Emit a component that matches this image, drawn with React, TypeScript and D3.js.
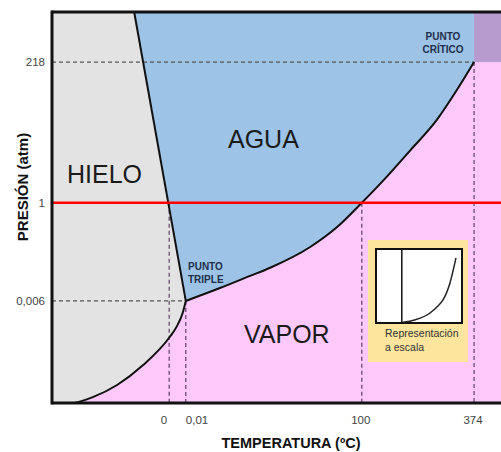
import React from "react";
import * as d3 from "d3";

// Schematic (not-to-scale) phase diagram: positions expressed in diagram units 0..100
const xTickPos = [26.1, 29.8, 69.0, 94.0];
const xTickLabels = ["0", "0,01", "100", "374"];
const xTickAnchors = ["end", "start", "middle", "middle"];
const yTickPos = [87.2, 51.2, 26.1];
const yTickLabels = ["218", "1", "0,006"];

const triplePoint: [number, number] = [29.8, 26.1];
const criticalPoint: [number, number] = [94.0, 87.2];

const fusionLine: [number, number][] = [
  [18.3, 100],
  [29.8, 26.1],
];
const vaporizationCurve: [number, number][] = [
  [29.8, 26.1],
  [37.4, 29.4],
  [44.1, 32.5],
  [48.6, 34.6],
  [57.5, 39.9],
  [63.5, 45.0],
  [69.0, 51.2],
  [73.7, 56.8],
  [79.7, 64.5],
  [85.7, 72.4],
  [90.2, 80.1],
  [94.0, 87.2],
];
// ascending in temperature, from the bottom edge to the triple point
const sublimationCurve: [number, number][] = [
  [5.1, 0],
  [9.1, 1.5],
  [14.5, 4.6],
  [20.3, 9.7],
  [26.3, 17.0],
  [27.8, 19.6],
  [29.1, 23.0],
  [29.8, 26.1],
];

// inset "to scale" curve, in inset units 0..1
const insetFusionX = 0.3;
const insetCurve: [number, number][] = [
  [0.314, 0.01],
  [0.45, 0.04],
  [0.628, 0.135],
  [0.72, 0.23],
  [0.779, 0.311],
  [0.86, 0.541],
  [0.93, 0.88],
];

const W = 501;
const H = 452;
const L = 52;
const R = 501;
const T = 12;
const B = 403;

const C_ICE = "#e3e3e3";
const C_WATER = "#9dc3e6";
const C_VAPOR = "#fdc8fa";
const C_SUPER = "#b79bcf";
const C_INSET = "#fee59e";

export default function App() {
  const x = d3.scaleLinear().domain([0, 100]).range([L, R]);
  const y = d3.scaleLinear().domain([0, 100]).range([B, T]);

  const lineCurve = d3
    .line<[number, number]>()
    .x((d) => x(d[0]))
    .y((d) => y(d[1]))
    .curve(d3.curveMonotoneX);
  const lineStraight = d3
    .line<[number, number]>()
    .x((d) => x(d[0]))
    .y((d) => y(d[1]));

  const subl = lineCurve(sublimationCurve) || "";
  const vap = lineCurve(vaporizationCurve) || "";
  const vapCont = vap.replace(/^M[^A-Za-z]*/, "L" + x(triplePoint[0]) + "," + y(triplePoint[1]));

  const vapRegion =
    subl + vapCont + `L${x(100)},${y(criticalPoint[1])}L${x(100)},${y(0)}Z`;

  const waterRegion =
    lineStraight(fusionLine) + vapCont + `L${x(criticalPoint[0])},${y(100)}Z`;

  // inset
  const ix0 = 376,
    ix1 = 462,
    iy0 = 249,
    iy1 = 323;
  const ixs = d3.scaleLinear().domain([0, 1]).range([ix0, ix1]);
  const iys = d3.scaleLinear().domain([0, 1]).range([iy1, iy0]);
  const insetLine = d3
    .line<[number, number]>()
    .x((d) => ixs(d[0]))
    .y((d) => iys(d[1]))
    .curve(d3.curveMonotoneX);

  const dash = { stroke: "#555", strokeWidth: 1.2, strokeDasharray: "4,3", fill: "none" };
  const dashV = { stroke: "#5d4068", strokeWidth: 1.2, strokeDasharray: "4,3", fill: "none" };

  return (
    <svg
      width={W}
      height={H}
      style={{ position: "absolute", left: 0, top: 0, background: "#fff" }}
      fontFamily="'Liberation Sans', Arial, sans-serif"
    >
      {/* ice background */}
      <rect x={L} y={T} width={R - L} height={B - T} fill={C_ICE} />
      <path d={vapRegion} fill={C_VAPOR} />
      <path d={waterRegion} fill={C_WATER} />
      <rect
        x={x(criticalPoint[0])}
        y={y(100)}
        width={x(100) - x(criticalPoint[0])}
        height={y(criticalPoint[1]) - y(100)}
        fill={C_SUPER}
      />

      {/* dashed reference lines */}
      <line x1={x(0)} x2={x(criticalPoint[0])} y1={y(yTickPos[0])} y2={y(yTickPos[0])} {...dash} />
      <line x1={x(0)} x2={x(triplePoint[0])} y1={y(yTickPos[2])} y2={y(yTickPos[2])} {...dash} />
      <line x1={x(xTickPos[0])} x2={x(xTickPos[0])} y1={y(yTickPos[1])} y2={y(0)} {...dashV} />
      <line x1={x(xTickPos[1])} x2={x(xTickPos[1])} y1={y(yTickPos[2])} y2={y(0)} {...dashV} />
      <line x1={x(xTickPos[2])} x2={x(xTickPos[2])} y1={y(yTickPos[1])} y2={y(0)} {...dashV} />
      <line x1={x(xTickPos[3])} x2={x(xTickPos[3])} y1={y(criticalPoint[1])} y2={y(0)} {...dashV} />

      {/* phase boundaries */}
      <path d={lineStraight(fusionLine) || ""} stroke="#111" strokeWidth={2} fill="none" />
      <path d={vap} stroke="#111" strokeWidth={2} fill="none" />
      <path d={subl} stroke="#111" strokeWidth={2} fill="none" />

      {/* 1 atm line */}
      <line x1={x(0)} x2={x(100)} y1={y(yTickPos[1])} y2={y(yTickPos[1])} stroke="#ff0000" strokeWidth={2.5} />

      {/* frame */}
      <line x1={L} x2={R} y1={T} y2={T} stroke="#111" strokeWidth={3} />
      <line x1={L} x2={L} y1={T - 1.5} y2={B + 1.5} stroke="#111" strokeWidth={3} />
      <line x1={L} x2={R} y1={B} y2={B} stroke="#111" strokeWidth={3} />

      {/* region labels */}
      <text x={67} y={183} fontSize={25} fill="#1a1a1a">HIELO</text>
      <text x={228} y={148} fontSize={25} fill="#1a1a1a">AGUA</text>
      <text x={244} y={343} fontSize={25} fill="#1a1a1a">VAPOR</text>

      <text fontSize={10} fontWeight="bold" fill="#1f2f4d">
        <tspan x={188} y={270}>PUNTO</tspan>
        <tspan x={188} y={283}>TRIPLE</tspan>
      </text>
      <text fontSize={10} fontWeight="bold" fill="#1f2f4d" textAnchor="middle">
        <tspan x={443} y={40}>PUNTO</tspan>
        <tspan x={443} y={53}>CRÍTICO</tspan>
      </text>

      {/* inset */}
      <rect x={368} y={240} width={100} height={122} fill={C_INSET} />
      <rect x={ix0} y={iy0} width={ix1 - ix0} height={iy1 - iy0} fill="#fff" stroke="#111" strokeWidth={2} />
      <line x1={ixs(insetFusionX)} x2={ixs(insetFusionX)} y1={iy0} y2={iy1} stroke="#111" strokeWidth={1.5} />
      <path d={insetLine(insetCurve) || ""} stroke="#222" strokeWidth={1.5} fill="none" />
      <text fontSize={10.5} fill="#333">
        <tspan x={385} y={337}>Representación</tspan>
        <tspan x={385} y={351}>a escala</tspan>
      </text>

      {/* ticks */}
      {yTickPos.map((v, i) => (
        <text key={"y" + i} x={45} y={y(v) + 4} fontSize={11.5} fill="#444" textAnchor="end">
          {yTickLabels[i]}
        </text>
      ))}
      {xTickPos.map((v, i) => {
        const anchor = xTickAnchors[i];
        const dx = anchor === "end" ? -2 : anchor === "start" ? 0 : -1;
        return (
          <text key={"x" + i} x={x(v) + dx} y={424} fontSize={11.5} fill="#444" textAnchor={anchor}>
            {xTickLabels[i]}
          </text>
        );
      })}

      {/* axis titles */}
      <text x={291} y={448} fontSize={14.5} fontWeight="bold" fill="#111" textAnchor="middle">
        TEMPERATURA (ºC)
      </text>
      <text
        transform="translate(28,187) rotate(-90)"
        fontSize={15}
        fontWeight="bold"
        fill="#111"
        textAnchor="middle"
      >
        PRESIÓN (atm)
      </text>
    </svg>
  );
}
